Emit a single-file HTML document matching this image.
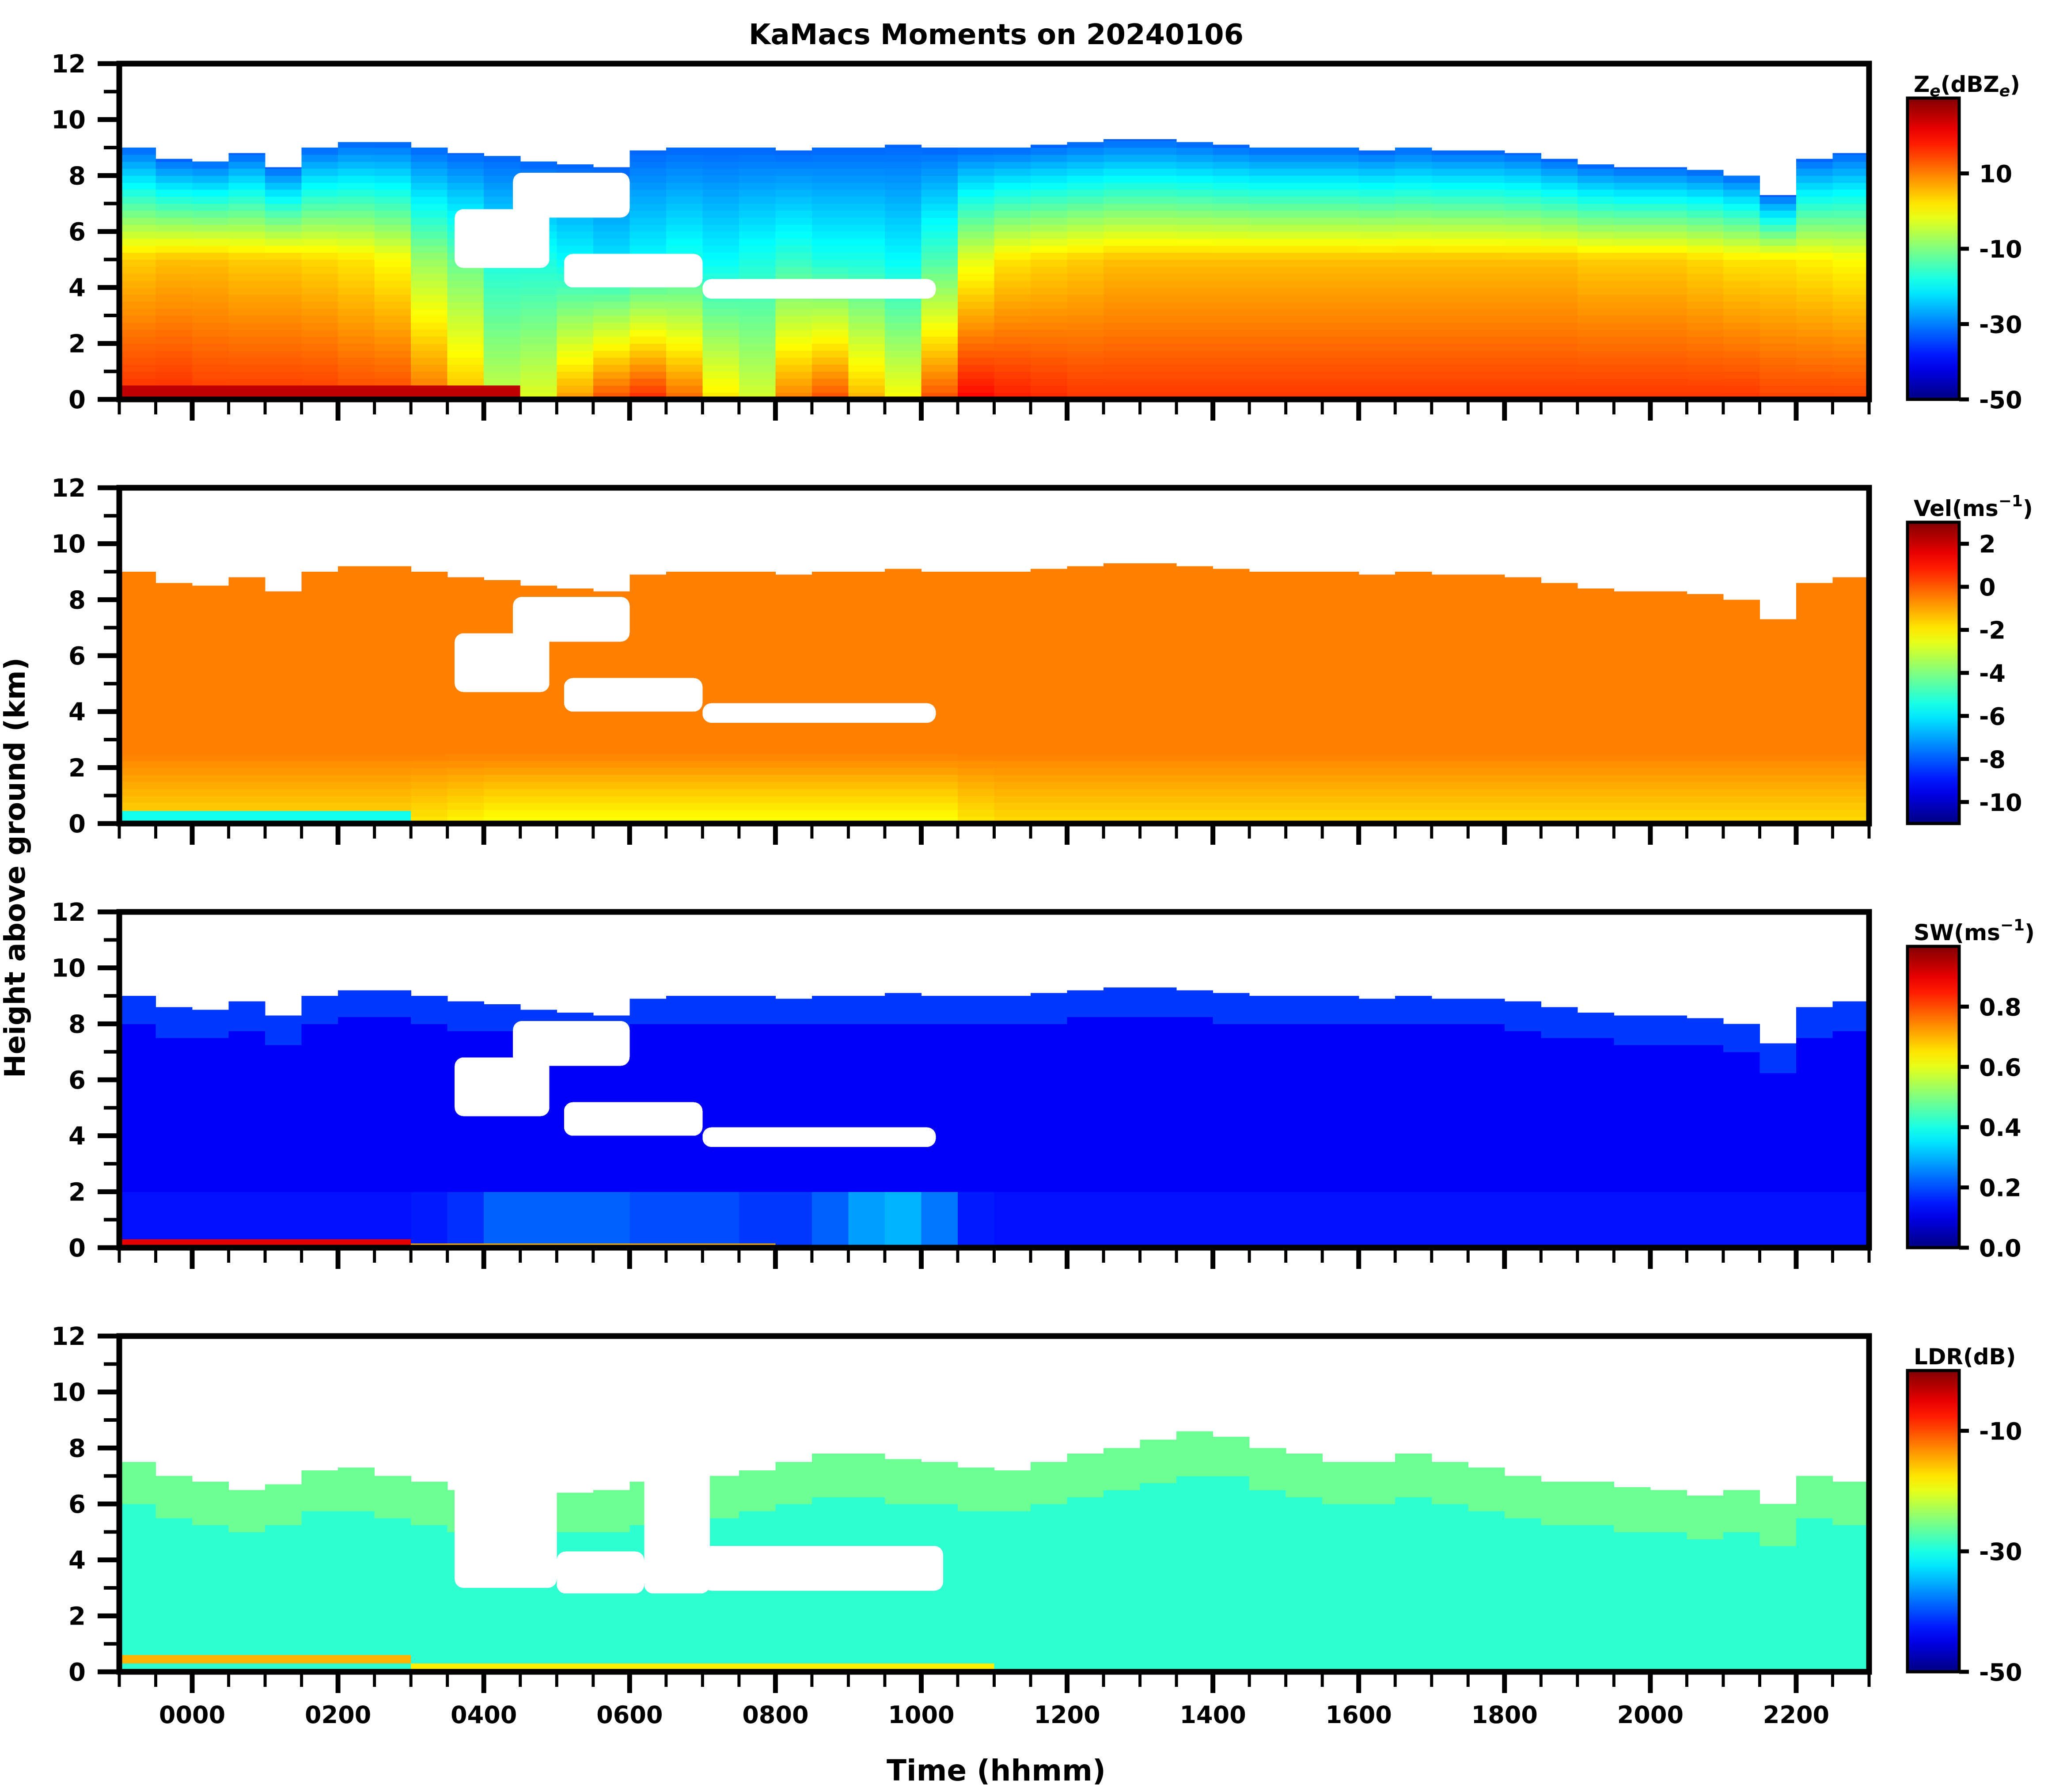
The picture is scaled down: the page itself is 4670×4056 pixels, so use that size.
<!DOCTYPE html>
<html><head><meta charset="utf-8"><title>KaMacs Moments</title>
<style>
html,body{margin:0;padding:0;background:#fff;}
svg{display:block;font-family:"DejaVu Sans","Liberation Sans",sans-serif;font-weight:bold;}
</style></head>
<body>
<svg id="fig" xmlns="http://www.w3.org/2000/svg" width="4670" height="4056" viewBox="0 0 4670 4056">
<rect x="0" y="0" width="4670" height="4056" fill="#fff"/>
<text x="2255" y="100" font-size="64" text-anchor="middle">KaMacs Moments on 20240106</text>
<text x="0" y="0" font-size="64" text-anchor="middle" transform="translate(56,1964) rotate(-90)">Height above ground (km)</text>
<text x="2255" y="4030" font-size="66" text-anchor="middle">Time (hhmm)</text>
<defs id="defs"></defs>
<g id="plots"></g>
</svg>
<script>
// ---- data (per 0.5 h time bin, from 2300 prior day to 2300) ----
const binStart = [-1,-0.5,0,0.5,1,1.5,2,2.5,3,3.5,4,4.5,5,5.5,6,6.5,7,7.5,8,8.5,9,9.5,10,10.5,11,11.5,12,12.5,13,13.5,14,14.5,15,15.5,16,16.5,17,17.5,18,18.5,19,19.5,20,20.5,21,21.5,22,22.5];
const cloudTop = [9.0,8.6,8.5,8.8,8.3,9.0,9.2,9.2,9.0,8.8,8.7,8.5,8.4,8.3,8.9,9.0,9.0,9.0,8.9,9.0,9.0,9.1,9.0,9.0,9.0,9.1,9.2,9.3,9.3,9.2,9.1,9.0,9.0,9.0,8.9,9.0,8.9,8.9,8.8,8.6,8.4,8.3,8.3,8.2,8.0,7.3,8.6,8.8];
const ldrTop = [7.5,7.0,6.8,6.5,6.7,7.2,7.3,7.0,6.8,6.5,6.3,6.3,6.4,6.5,6.8,7.0,7.0,7.2,7.5,7.8,7.8,7.6,7.5,7.3,7.2,7.5,7.8,8.0,8.3,8.6,8.4,8.0,7.8,7.5,7.5,7.8,7.5,7.3,7.0,6.8,6.8,6.6,6.5,6.3,6.5,6.0,7.0,6.8];
const zSurface = [17,17,16,16,16,16,15,15,12,6,-4,-2,8,14,17,12,2,-3,10,14,6,0,14,20,18,17,16,16,16,16,16,16,16,16,16,16,16,16,16,16,16,16,16,16,16,15,15,15];
const zMid = [4,5,5,4,4,3,2,0,-8,-12,-18,-18,-20,-22,-20,-18,-20,-18,-16,-18,-18,-20,-14,-2,2,3,4,5,5,5,5,5,5,5,5,5,5,5,5,5,4,4,4,3,2,2,1,0];
const zTop = -32;
const velSurface = [-1.8,-1.8,-1.8,-1.8,-1.8,-1.8,-1.8,-1.8,-2.0,-2.2,-2.4,-2.4,-2.4,-2.4,-2.4,-2.4,-2.4,-2.4,-2.4,-2.4,-2.4,-2.4,-2.4,-2.0,-1.8,-1.8,-1.8,-1.8,-1.8,-1.8,-1.8,-1.8,-1.8,-1.8,-1.8,-1.8,-1.8,-1.8,-1.8,-1.8,-1.8,-1.8,-1.8,-1.8,-1.8,-1.8,-1.8,-1.8];
const velTop = -0.5;
const swLow = [0.14,0.14,0.14,0.14,0.14,0.14,0.14,0.14,0.15,0.17,0.22,0.22,0.22,0.22,0.2,0.2,0.2,0.18,0.18,0.22,0.28,0.3,0.24,0.15,0.14,0.14,0.14,0.14,0.14,0.14,0.14,0.14,0.14,0.14,0.14,0.14,0.14,0.14,0.14,0.14,0.14,0.14,0.14,0.14,0.14,0.14,0.14,0.14];
const swUpper = 0.12;
const swTopLayer = 0.18;
const ldrLow = -29;
const ldrHigh = -26;
const holesMain = [[4.4,6.0,6.5,8.1],[3.6,4.9,4.7,6.8],[5.1,7.0,4.0,5.2],[7.0,10.2,3.6,4.3]];
const holesLdr = [[3.6,5.0,3.0,9.5],[5.0,6.2,2.8,4.3],[6.2,7.1,2.8,9.5],[7.0,10.3,2.9,4.5]];
const bandZ = [[-1,4.5,0.1,0.5,25]];
const bandVel = [[-1,3,0.05,0.45,-5.5]];
const bandSw = [[-1,3,0.05,0.3,0.9],[3,8,0.05,0.15,0.7]];
const bandLdr = [[-1,3,0.3,0.6,-15],[3,11,0.1,0.3,-18]];
const xTickHours = [0,2,4,6,8,10,12,14,16,18,20,22];
const xTickLabels = ["0000","0200","0400","0600","0800","1000","1200","1400","1600","1800","2000","2200"];
const yTicks = [0,2,4,6,8,10,12];
const cbZTicks = [10,-10,-30,-50];
const cbVelTicks = [2,0,-2,-4,-6,-8,-10];
const cbSwTicks = [0.0,0.2,0.4,0.6,0.8];
const cbLdrTicks = [-10,-30,-50];

// ---- layout ----
const NS = "http://www.w3.org/2000/svg";
const X0 = 270, X1 = 4231, TMIN = -1, TMAX = 23;
const panelTops = [144,1104,2064,3024];
const PH = 760, HMAX = 12;
const CBX = 4318, CBW = 117, CBTOP_OFF = 78;
const xs = t => X0 + (t - TMIN) / (TMAX - TMIN) * (X1 - X0);
const ys = (p, h) => panelTops[p] + PH - h / HMAX * PH;
function jet(v){
  v = Math.max(0, Math.min(1, v));
  const c = a => Math.round(255 * Math.max(0, Math.min(1, 1.5 - Math.abs(4 * v - a))));
  return "rgb(" + c(3) + "," + c(2) + "," + c(1) + ")";
}
function el(tag, attrs, parent){
  const e = document.createElementNS(NS, tag);
  for (const k in attrs) e.setAttribute(k, attrs[k]);
  parent.appendChild(e);
  return e;
}
const plots = document.getElementById("plots");
const defs = document.getElementById("defs");

const panels = [
  {name:"reflectivity", vmin:-50, vmax:30, top:cloudTop, holes:holesMain, bands:bandZ, ticks:cbZTicks, fmt:v=>String(v),
   val:(i,h,top)=> h<=5 ? zSurface[i] + (zMid[i]-zSurface[i])*(h/5) : zMid[i] + (zTop-zMid[i])*((h-5)/Math.max(0.5,top-5))},
  {name:"velocity", vmin:-11, vmax:3, top:cloudTop, holes:holesMain, bands:bandVel, ticks:cbVelTicks, fmt:v=>String(v),
   val:(i,h,top)=> velSurface[i] + (velTop-velSurface[i])*Math.min(1,h/2.5)},
  {name:"spectrum-width", vmin:0, vmax:1, top:cloudTop, holes:holesMain, bands:bandSw, ticks:cbSwTicks, fmt:v=>v.toFixed(1),
   val:(i,h,top)=> h<2 ? swLow[i] : (h > top-1 ? swTopLayer : swUpper)},
  {name:"ldr", vmin:-50, vmax:0, top:ldrTop, holes:holesLdr, bands:bandLdr, ticks:cbLdrTicks, fmt:v=>String(v),
   val:(i,h,top)=> h > top-1.5 ? ldrHigh : ldrLow}
];

const DH = 0.25;
panels.forEach((P, p) => {
  const g = el("g", {}, plots);
  
  
  const img = el("g", {"shape-rendering":"crispEdges"}, g);
  
  
  for (let i = 0; i < binStart.length; i++) {
    const t0 = binStart[i], t1 = Math.min(TMAX, binStart[i] + 0.5);
    const top = P.top[i];
    for (let h = 0; h < top; h += DH) {
      const hh = Math.min(top, h + DH);
      const v = P.val(i, h + DH/2, top);
      const r = el("rect", {x:xs(t0), y:ys(p, hh), width:xs(t1)-xs(t0)+0.6, height:ys(p,h)-ys(p,hh)+0.6, fill:jet((v-P.vmin)/(P.vmax-P.vmin))}, img);
      
      
    }
  }
  P.bands.forEach(b => {
    const r = el("rect", {x:xs(b[0]), y:ys(p,b[3]), width:xs(b[1])-xs(b[0]), height:ys(p,b[2])-ys(p,b[3]), fill:jet((b[4]-P.vmin)/(P.vmax-P.vmin))}, img);
    
    
  });
  P.holes.forEach(b => {
    const r = el("rect", {x:xs(b[0]), y:ys(p,b[3]), width:xs(b[1])-xs(b[0]), height:ys(p,b[2])-ys(p,b[3]), fill:"#fff", rx:20}, img);
    
    
  });
  const fr = el("rect", {x:X0, y:panelTops[p], width:X1-X0, height:PH, fill:"none", stroke:"#000", "stroke-width":13}, g);
  
  
  for (let k = 0; k <= HMAX; k++) {
    const major = k % 2 === 0;
    const y = ys(p, k);
    const tk = el("line", {x1:X0-6, x2:X0-6-(major?43:29), y1:y, y2:y, stroke:"#000", "stroke-width":major?11:8}, g);
    
    
  }
  yTicks.forEach(v => {
    const t = el("text", {x:194, y:ys(p,v)+20, "font-size":56, "text-anchor":"end"}, g);
    t.textContent = String(v);
    
    
  });
  for (let m = TMIN*2; m <= TMAX*2; m++) {
    const hr = m / 2;
    const major = (Math.round(hr*2) % 4 === 0);
    const x = xs(hr);
    const yb = panelTops[p] + PH + 6;
    const tk = el("line", {x1:x, x2:x, y1:yb, y2:yb+(major?42:28), stroke:"#000", "stroke-width":major?11:7}, g);
    
    
  }
  if (p === 3) {
    xTickHours.forEach((hr, k) => {
      const t = el("text", {x:xs(hr), y:3900, "font-size":54, "text-anchor":"middle"}, g);
      t.textContent = xTickLabels[k];
      
      
    });
  }
  const cbTop = panelTops[p] + CBTOP_OFF, cbBot = panelTops[p] + PH;
  const gid = "jetgrad" + p;
  const lg = el("linearGradient", {id:gid, x1:0, y1:1, x2:0, y2:0}, defs);
  for (let s = 0; s <= 20; s++) el("stop", {offset:s/20, "stop-color":jet(s/20)}, lg);
  const cb = el("rect", {x:CBX, y:cbTop, width:CBW, height:cbBot-cbTop, fill:"url(#"+gid+")", stroke:"#000", "stroke-width":7}, g);
  
  
  P.ticks.forEach(v => {
    const y = cbBot - (v - P.vmin)/(P.vmax - P.vmin)*(cbBot - cbTop);
    const tk = el("line", {x1:CBX+CBW, x2:CBX+CBW+22, y1:y, y2:y, stroke:"#000", "stroke-width":9}, g);
    
    
    const t = el("text", {x:CBX+CBW+45, y:y+20, "font-size":54}, g);
    t.textContent = (v < 0 ? "-" : "") + P.fmt(Math.abs(v));
    
    
  });
});

const cbTitles = [
  ['Z<tspan font-size="36" dy="10" font-style="italic">e</tspan><tspan dy="-10">(dBZ</tspan><tspan font-size="36" dy="10" font-style="italic">e</tspan><tspan dy="-10">)</tspan>', "ze-colorbar-title"],
  ['Vel(ms<tspan font-size="36" dy="-22">−1</tspan><tspan dy="22">)</tspan>', "vel-colorbar-title"],
  ['SW(ms<tspan font-size="36" dy="-22">−1</tspan><tspan dy="22">)</tspan>', "sw-colorbar-title"],
  ['LDR(dB)', "ldr-colorbar-title"]
];
cbTitles.forEach((c, p) => {
  const t = el("text", {x:4332, y:panelTops[p]+CBTOP_OFF-14, "font-size":50}, plots);
  t.innerHTML = c[0];
  
  
});
</script>
</body></html>
